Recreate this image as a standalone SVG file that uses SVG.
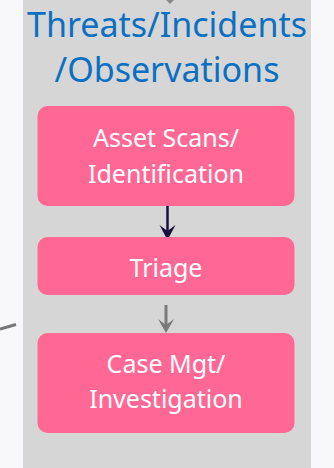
<svg xmlns="http://www.w3.org/2000/svg" width="334" height="468" viewBox="0 0 334 468">
<defs>
<style>
.node{fill:#ff6894;}
.lbl{font-family:"Noto Sans","Open Sans",sans-serif;font-size:25px;fill:#ffffff;text-anchor:middle;}
.title{font-family:"Noto Sans","Open Sans",sans-serif;font-size:34px;fill:#0b6fc2;text-anchor:middle;}
</style>
</defs>
<rect x="0" y="0" width="334" height="468" fill="#f8f8fa"/>
<g id="panel">
<rect x="23" y="0" width="288" height="468" fill="#d6d6d6"/>
<text class="title" x="167" y="37">Threats/Incidents</text>
<text class="title" x="167" y="82">/Observations</text>
</g>
<g id="connectors">
<path d="M166,0 L170,4 L174,0 Z" fill="#8a8a8a"/>
<line x1="0" y1="329" x2="16" y2="324.5" stroke="#777777" stroke-width="3"/>
<line x1="167.5" y1="206" x2="167.5" y2="236" stroke="#1a1040" stroke-width="2.5"/>
<path d="M159.5,225 L167.5,240 L175.5,225 L167.5,231 Z" fill="#1a1040"/>
<line x1="166" y1="305" x2="166" y2="329" stroke="#7a7a7a" stroke-width="3"/>
<path d="M158,319 L166,333 L174,319 L166,325 Z" fill="#7a7a7a"/>
</g>
<g id="asset-scans">
<rect class="node" x="37.5" y="106" width="257" height="100" rx="10"/>
<text class="lbl" x="166" y="147">Asset Scans/</text>
<text class="lbl" x="166" y="183">Identification</text>
</g>
<g id="triage">
<rect class="node" x="37.5" y="237" width="257" height="58" rx="10"/>
<text class="lbl" x="166" y="277">Triage</text>
</g>
<g id="case-mgt">
<rect class="node" x="37.5" y="333" width="257" height="100" rx="10"/>
<text class="lbl" x="166" y="373">Case Mgt/</text>
<text class="lbl" x="166" y="408">Investigation</text>
</g>
</svg>
